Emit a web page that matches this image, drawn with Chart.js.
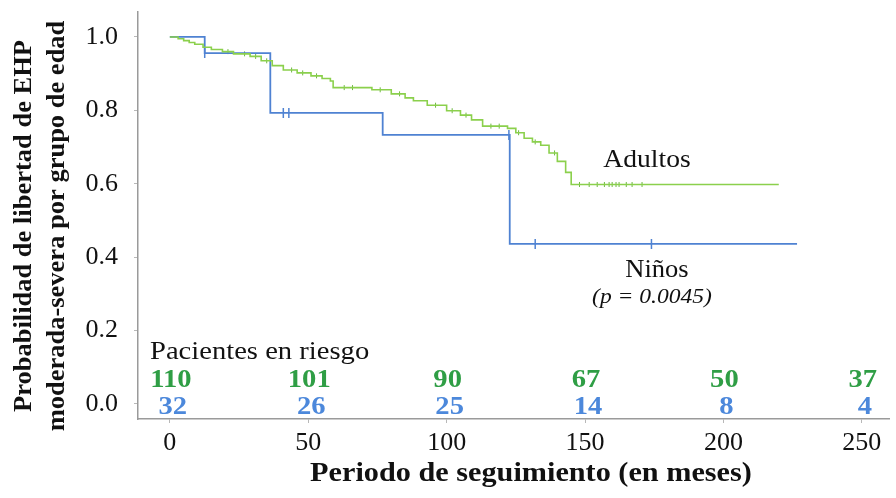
<!DOCTYPE html>
<html>
<head>
<meta charset="utf-8">
<script src="https://cdn.jsdelivr.net/npm/chart.js@4/dist/chart.umd.min.js"></script>
<style>
  html, body { margin: 0; padding: 0; background: #fff; }
  #wrap { width: 896px; height: 498px; }
</style>
</head>
<body>
<div id="wrap"><canvas id="km" width="896" height="498"></canvas></div>
<script>
// Kaplan-Meier estimates: time in months, survival after each event
const adultTimes = [0, 3, 5, 7, 9, 12, 15, 19, 23, 29, 33, 37, 41, 46, 51, 55, 58, 59, 73, 80, 85, 88, 93, 100, 105, 109, 113, 122, 125, 128, 131, 134, 137, 140, 143, 145, 220];
const adultSurv  = [1.0, 0.995, 0.99, 0.985, 0.98, 0.972, 0.966, 0.96, 0.954, 0.947, 0.935, 0.922, 0.91, 0.902, 0.894, 0.887, 0.88, 0.862, 0.856, 0.845, 0.834, 0.826, 0.814, 0.799, 0.787, 0.774, 0.757, 0.751, 0.739, 0.724, 0.714, 0.705, 0.684, 0.661, 0.631, 0.598, 0.598];
const adultCensor = [21, 27, 31, 35, 44, 48, 53, 63, 66, 76, 83, 96, 102, 107, 116, 119, 126, 132, 139, 148, 151.5, 154.4, 157, 158.7, 159.8, 161.2, 162.3, 164.9, 167, 170.6];

const childTimes = [0, 12.6, 36.3, 76.9, 122.8, 226.6];
const childSurv  = [1.0, 0.956, 0.793, 0.733, 0.436, 0.436];
const childCensor = [12.6, 41, 43, 122.5, 132, 174];

// Patients at risk
const riskTimes  = [0, 50, 100, 150, 200, 250];
const riskAdults = [110, 101, 90, 67, 50, 37];
const riskChildren = [32, 26, 25, 14, 8, 4];

const xTicks = [0, 50, 100, 150, 200, 250];
const yTicks = [0, 0.2, 0.4, 0.6, 0.8, 1.0];

const GREEN_LINE = '#8bd04c';
const GREEN_TEXT = '#2f9e45';
const BLUE_LINE = '#4f82d2';
const BLUE_TEXT = '#4c88db';
const SERIF = '"Liberation Serif", "Times New Roman", serif';

// survival value at time t from a step function
function stepValue(times, surv, t) {
  let v = surv[0];
  for (let i = 0; i < times.length; i++) {
    if (times[i] <= t) v = surv[i]; else break;
  }
  return v;
}

const pts = (xs, ys) => xs.map((x, i) => ({ x, y: ys[i] }));
const censorPts = (cs, times, surv) => cs.map(t => ({ x: t, y: stepValue(times, surv, t) }));

// text drawn slightly widened horizontally
function wideText(ctx, text, x, y, sx) {
  ctx.save();
  ctx.translate(x, y);
  ctx.scale(sx, 1);
  ctx.fillText(text, 0, 0);
  ctx.restore();
}

const annotations = {
  id: 'annotations',
  afterDraw(chart) {
    const { ctx } = chart;
    const xs = chart.scales.x;
    ctx.save();
    ctx.textBaseline = 'middle';

    // axis titles
    ctx.fillStyle = '#111';
    ctx.textAlign = 'center';
    ctx.font = 'bold 27px ' + SERIF;
    wideText(ctx, 'Periodo de seguimiento (en meses)', 531, 474, 1.12);

    ctx.save();
    ctx.font = 'bold 25px ' + SERIF;
    ctx.translate(41, 226);
    ctx.rotate(-Math.PI / 2);
    ctx.scale(1.06, 1);
    ctx.fillText('Probabilidad de libertad de EHP', 0, -16);
    ctx.fillText('moderada-severa por grupo de edad', 0, 17);
    ctx.restore();

    // curve labels
    ctx.font = '26px ' + SERIF;
    wideText(ctx, 'Adultos', 647, 160, 1.06);
    wideText(ctx, 'Niños', 657, 270, 1.02);
    ctx.font = 'italic 22px ' + SERIF;
    wideText(ctx, '(p = 0.0045)', 652, 297, 1.07);

    // risk table
    ctx.textAlign = 'left';
    ctx.font = '26px ' + SERIF;
    wideText(ctx, 'Pacientes en riesgo', 150, 352, 1.1);
    ctx.textAlign = 'center';
    ctx.font = 'bold 26px ' + SERIF;
    riskTimes.forEach((t, i) => {
      const px = xs.getPixelForValue(t);
      ctx.fillStyle = GREEN_TEXT;
      wideText(ctx, String(riskAdults[i]), px + 1, 380, 1.1);
      ctx.fillStyle = BLUE_TEXT;
      wideText(ctx, String(riskChildren[i]), px + 3, 407, 1.1);
    });
    ctx.restore();
  }
};

new Chart(document.getElementById('km'), {
  type: 'line',
  data: {
    datasets: [
      {
        label: 'Adultos',
        data: pts(adultTimes, adultSurv),
        stepped: true,
        borderColor: GREEN_LINE,
        borderWidth: 1.6,
        pointRadius: 0,
        fill: false
      },
      {
        label: 'Niños',
        data: pts(childTimes, childSurv),
        stepped: true,
        borderColor: BLUE_LINE,
        borderWidth: 1.8,
        pointRadius: 0,
        fill: false
      },
      {
        label: 'Adultos (censurados)',
        data: censorPts(adultCensor, adultTimes, adultSurv),
        showLine: false,
        pointStyle: 'line',
        rotation: 90,
        pointRadius: 2.5,
        pointBorderColor: '#6bb83e',
        pointBorderWidth: 1
      },
      {
        label: 'Niños (censurados)',
        data: censorPts(childCensor, childTimes, childSurv),
        showLine: false,
        pointStyle: 'line',
        rotation: 90,
        pointRadius: 5,
        pointBorderColor: BLUE_LINE,
        pointBorderWidth: 1.5
      }
    ]
  },
  options: {
    responsive: false,
    animation: false,
    devicePixelRatio: 1,
    layout: { padding: { left: 0, right: 6, top: 12, bottom: 0 } },
    plugins: {
      legend: { display: false },
      tooltip: { enabled: false }
    },
    scales: {
      x: {
        type: 'linear',
        min: -11.5,
        max: 260,
        afterBuildTicks: s => { s.ticks = xTicks.map(v => ({ value: v })); },
        afterFit: s => { s.height = 79; s.paddingLeft = 0; s.paddingRight = 0; },
        grid: { display: true, drawOnChartArea: false, drawTicks: true, tickLength: 4, color: '#b8b8b8' },
        border: { display: true, color: '#9a9a9a', width: 1.5 },
        ticks: {
          padding: 5,
          color: '#111',
          font: { family: SERIF, size: 26 },
          maxRotation: 0
        }
      },
      y: {
        type: 'linear',
        min: -0.041,
        max: 1.068,
        afterBuildTicks: s => { s.ticks = yTicks.map(v => ({ value: v })); },
        afterFit: s => { s.width = 138; s.paddingTop = 0; s.paddingBottom = 0; },
        grid: { display: true, drawOnChartArea: false, drawTicks: true, tickLength: 4, color: '#b8b8b8' },
        border: { display: true, color: '#9a9a9a', width: 1.5 },
        ticks: {
          padding: 16,
          color: '#111',
          font: { family: SERIF, size: 26 },
          callback: v => Number(v).toFixed(1)
        }
      }
    }
  },
  plugins: [annotations]
});
</script>
</body>
</html>
